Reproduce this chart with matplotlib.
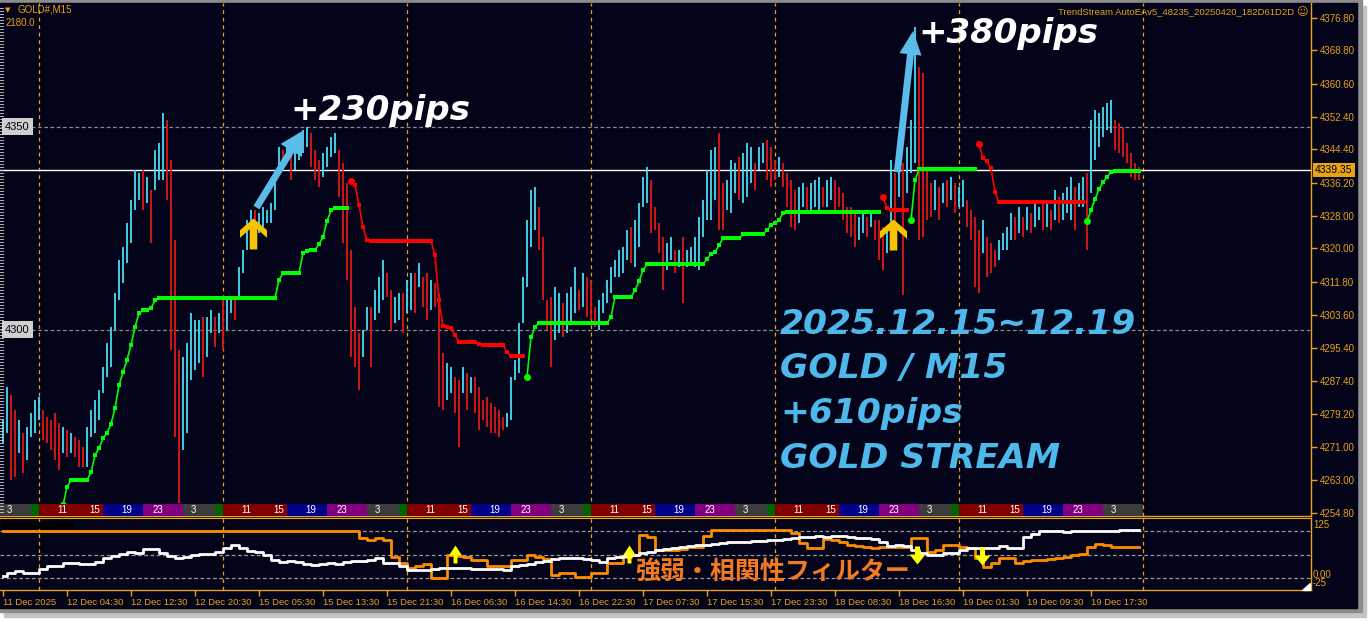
import numpy as np
import matplotlib
matplotlib.use('Agg')
import matplotlib.pyplot as plt
from matplotlib.patches import Rectangle, FancyArrowPatch
from matplotlib.path import Path
import matplotlib.transforms as mtransforms

W, H = 1370, 622
BG = '#03031a'
AXC = '#e8a317'
UPC = '#48dcf2'
DNC = '#e01818'

# ---- price bars (30 min each) ----
bar_high = [
    4277.7, 4285.8, 4283.8, 4280.1, 4277.7, 4274.5, 4275.9, 4279.4, 4282.6, 4283.3,
    4280.1, 4278.4, 4277.7, 4279.4, 4276.9, 4275.9, 4275.2, 4274.5, 4273.5, 4272.7,
    4271.0, 4275.9, 4280.1, 4282.6, 4285.1, 4290.7, 4296.7, 4300.6, 4309.0, 4317.1,
    4320.3, 4326.2, 4331.9, 4339.3, 4338.6, 4339.3, 4337.6, 4334.4, 4344.2, 4346.0,
    4353.3, 4351.6, 4341.8, 4322.0, 4294.9, 4293.2, 4296.7, 4304.0, 4302.3, 4302.3,
    4303.1, 4303.1, 4304.8, 4303.1, 4304.0, 4308.0, 4308.0, 4308.0, 4308.0, 4315.4,
    4319.6, 4327.0, 4329.4, 4329.4, 4328.7, 4330.2, 4329.4, 4331.2, 4336.1, 4345.0,
    4344.2, 4346.0, 4343.5, 4346.0, 4348.4, 4349.2, 4349.9, 4348.4, 4344.2, 4341.8,
    4343.5, 4345.0, 4347.4, 4348.4, 4344.2, 4341.0, 4336.1, 4319.6, 4305.5, 4299.1,
    4299.9, 4305.5, 4305.5, 4309.7, 4312.9, 4317.1, 4313.9, 4309.7, 4308.0, 4309.0,
    4309.0, 4312.2, 4313.9, 4313.9, 4316.4, 4312.9, 4313.9, 4312.2, 4311.4, 4309.0,
    4294.2, 4291.7, 4290.7, 4288.3, 4287.5, 4290.7, 4289.3, 4288.3, 4288.3, 4285.8,
    4282.6, 4283.3, 4281.9, 4280.9, 4280.1, 4278.4, 4279.4, 4288.3, 4292.5, 4301.6,
    4312.9, 4327.0, 4334.4, 4335.1, 4330.2, 4322.8, 4307.2, 4308.0, 4310.5, 4309.0,
    4306.5, 4309.0, 4310.5, 4315.4, 4309.7, 4313.9, 4312.9, 4312.2, 4305.5, 4307.2,
    4309.0, 4312.2, 4315.4, 4317.1, 4319.6, 4320.3, 4324.5, 4325.2, 4327.0, 4331.2,
    4337.6, 4340.0, 4336.8, 4330.2, 4326.2, 4322.8, 4321.3, 4322.8, 4319.6, 4319.6,
    4322.8, 4319.6, 4320.3, 4322.8, 4327.7, 4331.9, 4339.3, 4344.2, 4345.0, 4348.4,
    4336.1, 4336.8, 4341.8, 4341.0, 4342.5, 4343.5, 4346.0, 4345.0, 4341.0, 4345.0,
    4346.0, 4346.7, 4345.0, 4341.8, 4342.5, 4341.0, 4338.6, 4336.8, 4334.4, 4335.1,
    4336.1, 4335.1, 4336.1, 4336.8, 4337.6, 4335.1, 4336.8, 4337.6, 4336.8, 4335.1,
    4333.6, 4330.2, 4330.2, 4328.7, 4327.7, 4328.7, 4327.7, 4328.7, 4327.0, 4327.0,
    4325.2, 4325.2, 4341.8, 4338.6, 4342.5, 4341.0, 4345.0, 4351.6, 4374.5, 4364.7,
    4363.2, 4339.3, 4336.1, 4336.8, 4335.1, 4336.1, 4336.8, 4337.6, 4336.1, 4335.1,
    4336.8, 4331.9, 4329.4, 4327.7, 4324.5, 4327.0, 4322.8, 4321.3, 4319.6, 4322.0,
    4323.8, 4325.2, 4328.7, 4327.7, 4330.2, 4327.7, 4330.2, 4328.7, 4331.2, 4330.2,
    4331.2, 4331.9, 4329.4, 4334.4, 4332.6, 4333.6, 4335.1, 4337.6, 4335.1, 4336.1,
    4337.6, 4338.6, 4351.6, 4354.1, 4353.3, 4354.8, 4355.8, 4356.6, 4351.6, 4350.9,
    4349.9, 4346.0, 4343.5, 4341.0, 4340.0,
]
bar_low = [
    4272.0, 4274.5, 4262.9, 4263.6, 4269.5, 4264.6, 4267.8, 4273.5, 4274.5, 4277.7,
    4272.7, 4272.0, 4270.3, 4267.8, 4265.3, 4269.5, 4268.5, 4269.5, 4268.5, 4266.1,
    4266.1, 4266.1, 4273.5, 4274.5, 4277.7, 4284.3, 4288.3, 4290.7, 4299.9, 4307.2,
    4311.4, 4316.4, 4321.3, 4329.4, 4331.9, 4329.4, 4331.2, 4321.3, 4334.4, 4336.8,
    4336.8, 4331.9, 4294.9, 4273.5, 4257.2, 4270.3, 4274.5, 4287.5, 4290.0, 4291.7,
    4288.3, 4293.2, 4299.1, 4295.7, 4299.1, 4294.9, 4299.9, 4304.0, 4302.3, 4307.2,
    4313.9, 4319.6, 4322.0, 4320.3, 4323.8, 4325.2, 4326.2, 4326.2, 4329.4, 4339.3,
    4340.0, 4341.8, 4336.8, 4339.3, 4341.8, 4343.5, 4345.0, 4340.0, 4336.8, 4335.1,
    4337.6, 4340.0, 4342.5, 4343.5, 4332.6, 4321.3, 4312.2, 4293.2, 4290.7, 4285.1,
    4293.2, 4299.9, 4290.7, 4302.3, 4304.0, 4307.2, 4308.0, 4299.9, 4301.6, 4302.3,
    4299.1, 4304.0, 4304.8, 4304.0, 4310.5, 4305.5, 4302.3, 4304.8, 4305.5, 4280.9,
    4280.1, 4282.6, 4284.3, 4279.4, 4271.0, 4284.3, 4280.1, 4284.3, 4279.4, 4275.2,
    4277.7, 4275.9, 4274.5, 4274.5, 4273.5, 4275.2, 4275.9, 4277.7, 4287.5, 4289.3,
    4301.6, 4310.5, 4320.3, 4324.5, 4319.6, 4307.2, 4299.9, 4290.7, 4297.4, 4299.1,
    4298.1, 4299.1, 4301.6, 4304.0, 4304.8, 4305.5, 4303.1, 4302.3, 4300.6, 4299.9,
    4304.0, 4306.5, 4309.0, 4312.9, 4312.9, 4313.9, 4317.1, 4316.4, 4315.4, 4320.3,
    4330.2, 4331.2, 4323.8, 4324.5, 4318.8, 4309.7, 4314.6, 4317.1, 4313.9, 4315.4,
    4306.5, 4315.4, 4316.4, 4315.4, 4314.6, 4322.8, 4327.0, 4327.0, 4331.9, 4324.5,
    4324.5, 4329.4, 4328.7, 4333.6, 4331.9, 4331.2, 4332.6, 4336.1, 4334.4, 4339.3,
    4341.0, 4336.8, 4335.1, 4336.8, 4337.6, 4335.1, 4330.2, 4325.2, 4324.5, 4326.2,
    4330.2, 4329.4, 4328.7, 4330.2, 4329.4, 4330.2, 4330.2, 4331.9, 4329.4, 4330.2,
    4327.0, 4323.8, 4322.8, 4320.3, 4322.0, 4323.8, 4322.8, 4325.2, 4322.0, 4317.1,
    4314.6, 4318.8, 4320.3, 4322.8, 4332.6, 4308.5, 4333.6, 4338.6, 4341.0, 4322.0,
    4322.8, 4327.0, 4327.7, 4329.4, 4327.0, 4331.2, 4330.2, 4331.9, 4328.7, 4330.2,
    4330.2, 4325.2, 4322.0, 4310.5, 4309.0, 4318.8, 4312.9, 4313.9, 4315.4, 4317.1,
    4319.6, 4319.6, 4322.0, 4322.0, 4323.8, 4322.8, 4324.5, 4323.8, 4325.2, 4327.0,
    4324.5, 4325.2, 4324.5, 4327.0, 4326.2, 4327.0, 4328.7, 4327.0, 4324.5, 4330.2,
    4330.2, 4319.6, 4333.6, 4341.8, 4345.0, 4347.4, 4349.2, 4348.4, 4344.2, 4343.5,
    4342.5, 4341.0, 4337.6, 4336.8, 4336.8,
]
last_price = 4339.35

# ---- trend stream line (None = not drawn) ----
trend = ([None] * 15 +
         [4256.7, 4261.2] + [4262.9] * 5 +
         [4264.8, 4269.0, 4270.8, 4273.2, 4274.5, 4276.7, 4280.6, 4286.3, 4289.5,
          4292.5, 4296.2, 4300.6, 4304.0, 4304.8, 4304.8, 4305.3, 4307.2] +
         [4307.7] * 30 + [4312.2] + [4313.9] * 5 +
         [4318.8, 4319.3, 4319.6, 4319.6, 4321.1, 4322.8, 4326.7, 4329.4] + [4329.9] * 4 +
         [4336.6, 4335.6, 4330.7, 4325.2, 4322.0] + [4321.8] * 16 +
         [4318.3, 4307.2, 4300.8, 4300.6, 4300.3, 4298.6] + [4296.9] * 5 + [4296.4] +
         [4296.2] * 6 + [4294.4] + [4293.4] * 4 +
         [4288.3, 4298.1, 4300.6] + [4301.6] * 18 + [4303.1] + [4308.0] * 5 +
         [4309.7, 4311.9, 4314.6] + [4316.1] * 15 + [4317.4, 4318.6, 4319.1, 4320.8] +
         [4322.5] * 5 + [4323.5] * 6 + [4324.5, 4325.7, 4326.2, 4327.0, 4328.7] +
         [4328.9] * 24 +
         [4332.6, 4329.9] + [4329.4] * 5 +
         [4327.0, 4336.8] + [4339.5] * 15 +
         [4345.7, 4342.2, 4341.5, 4339.8, 4333.9] + [4331.4] * 22 +
         [4326.7, 4329.4, 4332.1, 4334.6, 4336.3, 4337.6, 4338.8] + [4339.1] * 7)
trend_flip_bars = [15, 87, 131, 220, 227, 244, 271]   # first bar of each leg, starts with up

buy_arrow_bars = [62.5, 222.5]
buy_arrow_price = [4319.8, 4319.6]

# ---- lower panel (hourly) ----
osc_white = [
    5, 12, 15, 11, 11, 20, 25, 27, 32, 32,
    30, 31, 35, 43, 48, 52, 55, 54, 62, 61,
    54, 47, 43, 44, 49, 51, 51, 55, 65, 70,
    65, 58, 56, 50, 38, 35, 36, 35, 30, 28,
    31, 32, 30, 34, 37, 37, 39, 42, 33, 32,
    27, 18, 18, 18, 19, 22, 22, 22, 21, 20,
    20, 20, 19, 17, 26, 28, 31, 35, 36, 40,
    42, 43, 42, 40, 38, 35, 42, 46, 48, 50,
    53, 56, 59, 62, 65, 67, 68, 70, 71, 73,
    75, 76, 76, 77, 78, 79, 80, 81, 84, 86,
    87, 88, 89, 88, 90, 89, 88, 86, 85, 84,
    76, 69, 70, 69, 60, 53, 50, 50, 53, 53,
    60, 63, 64, 64, 64, 68, 64, 64, 88, 93,
    100, 100, 99, 98, 100, 100, 99, 99, 100, 100,
    101, 101, 101,
]
osc_orange = [100] * 45 + [
    85, 80, 86, 81, 45, 33, 22, 25, 30, 1,
    1, 49, 47, 45, 39, 39, 25, 25, 25, 39,
    39, 49, 45, 40, 7, 12, 12, 3, 3, 12,
    12, 32, 32, 45, 50, 91, 88, 60, 60, 60,
    62, 67, 67, 90, 101, 101, 101, 101, 101, 101,
    101, 101, 101, 101, 95, 75, 63, 63, 84, 80,
    76, 70, 68, 66, 64, 66, 66, 66, 66, 86,
    86, 56, 60, 70, 70, 67, 64, 42, 24, 32,
    43, 43, 32, 36, 39, 39, 41, 43, 46, 49,
    52, 66, 72, 70, 66, 66, 66, 66,
]
osc_up_bars = [113, 156.5]
osc_up_level = [32, 32]
osc_dn_bars = [228.5, 244.75]
osc_dn_level = [68, 67]

time_labels = ['11 Dec 2025', '12 Dec 04:30', '12 Dec 12:30', '12 Dec 20:30',
               '15 Dec 05:30', '15 Dec 13:30', '15 Dec 21:30', '16 Dec 06:30',
               '16 Dec 14:30', '16 Dec 22:30', '17 Dec 07:30', '17 Dec 15:30',
               '17 Dec 23:30', '18 Dec 08:30', '18 Dec 16:30', '19 Dec 01:30',
               '19 Dec 09:30', '19 Dec 17:30']
price_ticks = [4376.80, 4368.80, 4360.60, 4352.40, 4344.40, 4336.20, 4328.00, 4320.00,
               4311.80, 4303.60, 4295.40, 4287.40, 4279.20, 4271.00, 4263.00, 4254.80]
day_starts = [-37, 9, 55, 101, 147, 193, 239]
session_hours = ['11', '15', '19', '23', '3']


def fx(px):
    return px / W


def fy(py):
    return 1 - py / H


def pxrect(x0, y0, x1, y1, **kw):
    return Rectangle((fx(x0), fy(y1)), (x1 - x0) / W, (y1 - y0) / H,
                     transform=fig.transFigure, **kw)


plt.rcParams['font.family'] = ['Liberation Sans', 'DejaVu Sans']

fig = plt.figure(figsize=(W / 100, H / 100), dpi=100, facecolor='white')

# window frame (behind the axes)
fig.patches.append(pxrect(4, 6, 1366, 617, color='#c4c4c4', zorder=-10))
fig.patches.append(pxrect(0, 0, 1362, 612, color='#8c8c8c', zorder=-9))
fig.patches.append(pxrect(0, 3, 1357, 608, color=BG, zorder=-8))

ax = fig.add_axes([0, fy(516), fx(1311), (516 - 3) / H])
ax2 = fig.add_axes([0, fy(590), fx(1311), (590 - 518) / H])

nbars = len(bar_high)
idx = np.arange(nbars)

for a in (ax, ax2):
    a.set_facecolor(BG)
    a.set_xlim(-0.75, 327)
    for s in ('left', 'top'):
        a.spines[s].set_visible(False)
    for s in ('right', 'bottom'):
        a.spines[s].set_color(AXC)
        a.spines[s].set_linewidth(1)
    for d in day_starts[1:] + [day_starts[-1] + 46]:
        a.axvline(d, color=AXC, lw=0.9, ls=(0, (3, 3)), zorder=1)
ax2.spines['top'].set_visible(True)
ax2.spines['top'].set_color(AXC)

# ---- main panel ----
ax.set_ylim(4254.05, 4380.5)
for lvl in (4350, 4300):
    ax.axhline(lvl, color='#8a8a8a', lw=0.9, ls=(0, (3, 2)), zorder=1)
    ax.annotate(str(lvl), xy=(0, lvl), xycoords=('axes fraction', 'data'),
                xytext=(5, 0), textcoords='offset pixels', ha='left', va='center',
                fontsize=8, color='black',
                bbox=dict(boxstyle='square,pad=0.3', fc='#cfcfcf', ec='none'))
ax.axhline(last_price, color='white', lw=1, zorder=1.5)

hi = np.array(bar_high)
lo = np.array(bar_low)
mid = (hi + lo) / 2
up = np.r_[True, mid[1:] >= mid[:-1]]
ax.vlines(idx, lo, hi, colors=np.where(up, UPC, DNC), lw=1.3, zorder=2)

# trend legs
tr = np.array([np.nan if v is None else v for v in trend])
edges = trend_flip_bars + [nbars]
for k in range(len(trend_flip_bars)):
    s, e = edges[k], edges[k + 1]
    col = '#00ff00' if k % 2 == 0 else '#ff0000'
    xs = idx[s:e]
    ax.plot(xs, tr[s:e], color=col, lw=1.2, marker='s', ms=2.9, mew=0,
            solid_capstyle='butt', zorder=3)
    ax.plot(xs[0], tr[s], 'o', color=col, ms=5, mew=0, zorder=3)

# hour strip
strip_tr = mtransforms.blended_transform_factory(ax.transData, ax.transAxes)
sh = 12 / 513
blocks = [(0, 16, '#800000'), (16, 26, '#000088'), (26, 36, '#800080'),
          (36, 44, '#3c3c3c'), (44, 46, '#006400')]
label_off = [5.75, 14, 22, 29.75, 38.5]
for d in day_starts:
    last = d == day_starts[-1]
    for (b0, b1, c) in blocks:
        x0, x1 = d + b0, d + b1
        if last and c == '#006400':
            continue
        if last and c == '#3c3c3c':
            x1 = nbars
        x0 = max(x0, -0.75)
        if x1 <= x0:
            continue
        ax.add_patch(Rectangle((x0, 0), x1 - x0, sh, transform=strip_tr,
                               color=c, lw=0, zorder=4))
    for lab, off in zip(session_hours, label_off):
        if d + off > -0.5:
            ax.text(d + off, sh / 2, lab, transform=strip_tr, color='white',
                    fontsize=7, ha='center', va='center', zorder=5)

# right price axis
ax.yaxis.tick_right()
ax.set_yticks(price_ticks)
ax.set_yticklabels(['%.2f' % v for v in price_ticks])
ax.tick_params(axis='y', colors=AXC, labelsize=7, length=4, width=1, pad=2)
ax.tick_params(axis='x', bottom=False, labelbottom=False)
ax.annotate('%.2f' % last_price, xy=(1, last_price), xycoords=('axes fraction', 'data'),
            xytext=(4, 0), textcoords='offset pixels', ha='left', va='center',
            fontsize=7.5, color='black', annotation_clip=False, zorder=9,
            bbox=dict(boxstyle='square,pad=0.2', fc='#e8a317', ec='none'))

# gold buy arrows
gold = Path([(0, 31), (13.5, 19.3), (13.5, 11.7), (3.8, 20.2), (3.8, 0), (-3.8, 0),
             (-3.8, 20.2), (-13.5, 11.7), (-13.5, 19.3), (0, 31)],
            [Path.MOVETO] + [Path.LINETO] * 8 + [Path.CLOSEPOLY])
ax.plot(buy_arrow_bars, buy_arrow_price, ls='none', marker=gold, ms=2 * 31 * 0.72,
        color='#f7c200', mew=0, zorder=6)

# blue arrows
for (xa, ya), (xb, yb), hw in (((63, 4329.5), (75.5, 4349.7), 18),
                              ((223.5, 4338.1), (227.6, 4374.3), 16)):
    ax.add_patch(FancyArrowPatch((xa, ya), (xb, yb), mutation_scale=1,
                                 arrowstyle='simple,head_length=17,head_width=%d,tail_width=5' % hw,
                                 color='#5bbcea', lw=0, zorder=7))

pips_kw = dict(color='white', fontsize=24.5, fontweight='bold', fontstyle='italic',
               family='DejaVu Sans', zorder=8)
ax.text(71.75, 4351.6, '+230pips', va='baseline', **pips_kw)
ax.text(228.75, 4370.6, '+380pips', va='baseline', **pips_kw)

blue_kw = dict(color='#4fb8ea', fontsize=24.8, fontweight='bold', fontstyle='italic',
               family='DejaVu Sans', va='baseline', zorder=8)
for txt, yv in (('2025.12.15~12.19', 4299.0), ('GOLD / M15', 4288.0),
                ('+610pips', 4276.9), ('GOLD STREAM', 4265.8)):
    ax.text(194.25, yv, txt, **blue_kw)

# ---- lower panel ----
ax2.set_ylim(-24.7, 127.4)
for lvl in (100, 50, 0):
    ax2.axhline(lvl, color='#9a9a9a', lw=0.9, ls=(0, (3, 2)), zorder=1)
ox = np.arange(len(osc_white)) * 2
ax2.plot(ox, osc_orange, color='#ff8c00', lw=2, drawstyle='steps-mid', zorder=3)
ax2.plot(ox, osc_white, color='white', lw=2, drawstyle='steps-mid', zorder=3)

up_arrow = Path([(0, 18), (6.5, 8), (2, 8), (2, 0), (-2, 0), (-2, 8), (-6.5, 8), (0, 18)],
                [Path.MOVETO] + [Path.LINETO] * 6 + [Path.CLOSEPOLY])
dn_arrow = Path([(0, -18), (8, -8), (2.5, -8), (2.5, 0), (-2.5, 0), (-2.5, -8), (-8, -8),
                 (0, -18)], [Path.MOVETO] + [Path.LINETO] * 6 + [Path.CLOSEPOLY])
ax2.plot(osc_up_bars, osc_up_level, ls='none', marker=up_arrow, ms=2 * 18 * 0.72,
         color='#ffff00', mew=0, zorder=5)
ax2.plot(osc_dn_bars, osc_dn_level, ls='none', marker=dn_arrow, ms=2 * 18 * 0.72,
         color='#ffff00', mew=0, zorder=5)

ax2.text(158, 13, '強弱・相関性フィルター', color='#f47a20', fontsize=18,
         fontweight='bold', family=['Noto Sans CJK JP', 'DejaVu Sans'],
         ha='left', va='center', zorder=6)

ax2.set_xticks(np.arange(len(time_labels)) * 16)
ax2.set_xticklabels(time_labels, ha='left')
ax2.tick_params(axis='x', colors=AXC, labelsize=6.8, length=4, width=1, pad=2)
ax2.tick_params(axis='y', left=False, labelleft=False, right=False)

fig.patches.append(pxrect(3, 522, 72, 528, color='black', zorder=3))

# ---- free texts ----
fig.text(fx(18), fy(10), 'GOLD#,M15', color=AXC, fontsize=7, va='center')
fig.text(fx(5), fy(10), '▼', color=AXC, fontsize=5, va='center', family='DejaVu Sans')
fig.text(fx(6), fy(23), '2180.0', color=AXC, fontsize=7, va='center')
fig.text(fx(1058), fy(12), 'TrendStream AutoEAv5_48235_20250420_182D61D2D',
         color=AXC, fontsize=6.8, va='center')
fig.text(fx(1302), fy(12), '☺', color=AXC, fontsize=8, va='center', ha='center',
         family='DejaVu Sans')
fig.text(fx(1313), fy(525), '125', color=AXC, fontsize=7, va='center')
fig.text(fx(1313), fy(575), '0.00', color=AXC, fontsize=7, va='center')
fig.text(fx(1313), fy(583), '-25', color=AXC, fontsize=7, va='center')
fig.patches.append(plt.Polygon([(fx(1302), fy(590)), (fx(1310), fy(590)), (fx(1310), fy(583))],
                               closed=True, color='white', transform=fig.transFigure, zorder=5))

# left ruler ticks
for yy in range(8, 514, 3):
    fig.lines.append(plt.Line2D([fx(0), fx(3)], [fy(yy), fy(yy)], color='#d8d8d8',
                                lw=0.6, transform=fig.transFigure))

fig.savefig('out.png', dpi=100, facecolor='white')
